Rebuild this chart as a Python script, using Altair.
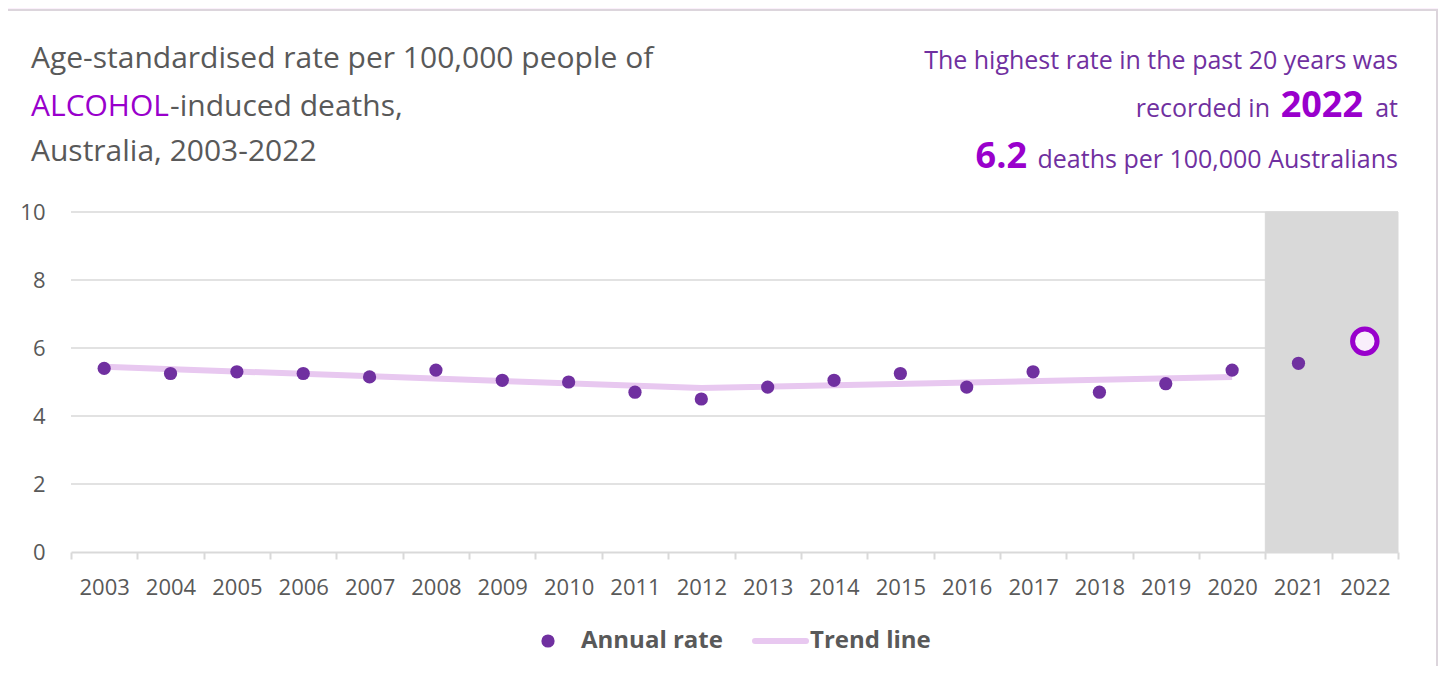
import altair as alt
import pandas as pd

# ---- data ----
years = [str(y) for y in range(2003, 2023)]
rates = [5.4, 5.25, 5.3, 5.25, 5.15, 5.35, 5.05, 5.0, 4.7, 4.5,
         4.85, 5.05, 5.25, 4.85, 5.3, 4.7, 4.95, 5.35, 5.55, 6.2]
trend_years = ["2003", "2012", "2020"]
trend_values = [5.45, 4.82, 5.15]
shaded_years = ["2021", "2022"]
highlight_year = "2022"
y_ticks = [0, 2, 4, 6, 8, 10]
grid_values = [2, 4, 6, 8, 10]

FONT = "Open Sans"
GREY = "#595959"
DARK_PURPLE = "#7030a0"
BRIGHT_PURPLE = "#9900cc"
TREND = "#e8c8f0"
SHADE = "#d9d9d9"

W, H = 1327, 340

df = pd.DataFrame({"year": years, "rate": rates})
df_main = df[df.year != highlight_year]
df_high = df[df.year == highlight_year]
df_trend = pd.DataFrame({"year": trend_years, "trend": trend_values})
df_shade = pd.DataFrame({"year": shaded_years, "lo": [0, 0], "hi": [10, 10]})
df_grid = pd.DataFrame({"g": grid_values})
one = pd.DataFrame({"k": [0]})

xscale = alt.Scale(domain=years, paddingInner=0, paddingOuter=0)
yscale = alt.Scale(domain=[0, 10], nice=False)

xaxis = alt.Axis(title=None, labelAngle=0, labelFont=FONT, labelFontSize=22,
                 labelColor=GREY, labelPadding=18, domainColor=SHADE, domainWidth=2,
                 tickColor=SHADE, tickWidth=2, tickSize=7, tickBand="extent", grid=False,
                 zindex=1)
yaxis = alt.Axis(title=None, values=y_ticks, labelFont=FONT, labelFontSize=22,
                 labelColor=GREY, labelPadding=26, domain=False, ticks=False,
                 grid=False, zindex=1)

card = alt.Chart(one).mark_rect(fill="white", stroke="#dcd5dc", strokeWidth=2).encode(
    x=alt.value(-69), x2=alt.value(1366), y=alt.value(-202), y2=alt.value(480))

grid = alt.Chart(df_grid).mark_rule(color=SHADE, strokeWidth=1.5).encode(
    y=alt.Y("g:Q", scale=yscale, axis=yaxis),
    x=alt.value(0), x2=alt.value(W))

shade = alt.Chart(df_shade).mark_rect(color=SHADE, stroke=SHADE, strokeWidth=1).encode(
    x=alt.X("year:O", scale=xscale, axis=xaxis),
    y=alt.Y("lo:Q", scale=yscale),
    y2="hi:Q")

trend = alt.Chart(df_trend).mark_line(color=TREND, strokeWidth=6).encode(
    x=alt.X("year:O", scale=xscale),
    y=alt.Y("trend:Q", scale=yscale))

pts = alt.Chart(df_main).mark_circle(size=175, color=DARK_PURPLE, opacity=1).encode(
    x=alt.X("year:O", scale=xscale),
    y=alt.Y("rate:Q", scale=yscale))

hi = alt.Chart(df_high).mark_point(filled=False, fill="#f9eefb", fillOpacity=1,
                                  stroke=BRIGHT_PURPLE, strokeWidth=5, size=600,
                                  opacity=1).encode(
    x=alt.X("year:O", scale=xscale),
    y=alt.Y("rate:Q", scale=yscale))


def txt(s, x, y, size, color, weight="normal", align="left", baseline="alphabetic"):
    return alt.Chart(one).mark_text(text=s, font=FONT, fontSize=size, color=color,
                                    fontWeight=weight, align=align,
                                    baseline=baseline).encode(
        x=alt.value(x), y=alt.value(y))

title_layers = [
    txt("Age-standardised rate per 100,000 people of", -40, -144, 30, GREY),
    txt("ALCOHOL", -40, -96, 30, BRIGHT_PURPLE),
    txt("-induced deaths,", 99, -96, 30, GREY),
    txt("Australia, 2003-2022", -40, -51, 30, GREY),
    txt("The highest rate in the past 20 years was", 1327, -143, 25, DARK_PURPLE, align="right"),
    txt("at", 1327, -95, 25, DARK_PURPLE, align="right"),
    txt("2022", 1292, -95, 36, BRIGHT_PURPLE, weight="bold", align="right"),
    txt("recorded in", 1199, -95, 25, DARK_PURPLE, align="right"),
    txt("deaths per 100,000 Australians", 1327, -44, 25, DARK_PURPLE, align="right"),
    txt("6.2", 956, -44, 36, BRIGHT_PURPLE, weight="bold", align="right"),
]

legend_dot = alt.Chart(one).mark_circle(size=175, color=DARK_PURPLE, opacity=1).encode(
    x=alt.value(477), y=alt.value(429))
legend_line = alt.Chart(one).mark_rule(color=TREND, strokeWidth=6, strokeCap="round").encode(
    x=alt.value(684), x2=alt.value(735), y=alt.value(429))
legend_txt = [
    txt("Annual rate", 510, 429, 24, GREY, weight="bold", baseline="middle"),
    txt("Trend line", 739, 429, 24, GREY, weight="bold", baseline="middle"),
]

chart = alt.layer(card, grid, shade, trend, pts, hi, *title_layers, legend_dot, legend_line,
                  *legend_txt).properties(
    width=W, height=H, background="#fbf0fb",
    padding={"left": 63, "top": 204, "right": 40, "bottom": 114},
    autosize=alt.AutoSizeParams(type="none"),
).configure_view(stroke=None)

chart.save("out.html", embed_options={"renderer": "svg", "actions": False})
